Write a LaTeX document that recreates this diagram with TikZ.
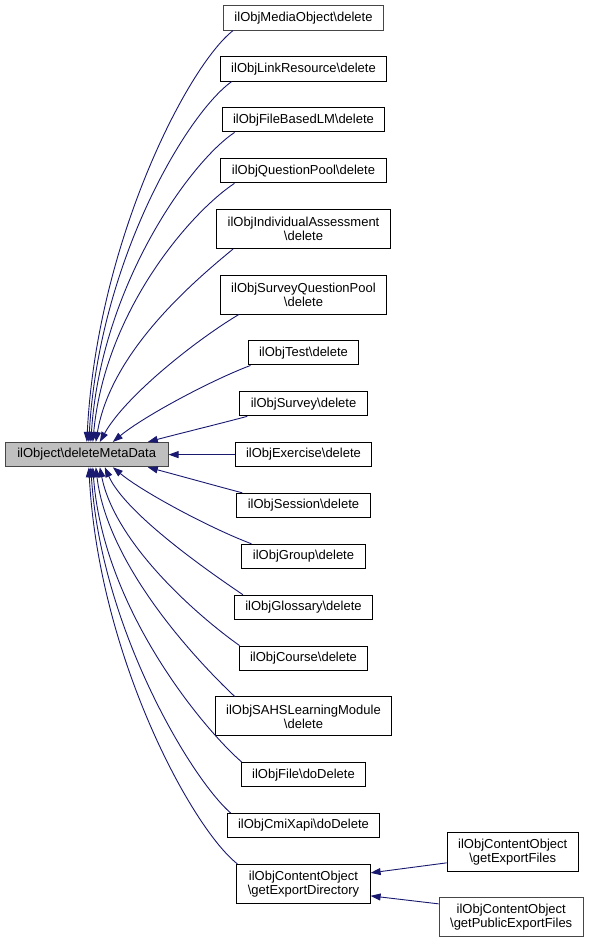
\documentclass[tikz,border=0pt]{standalone}
\usepackage{fontspec}
\setmainfont{Liberation Sans}
\usepackage{xcolor}
\usepackage{tikz}
\usetikzlibrary{arrows.meta, positioning}

\definecolor{edgeblue}{RGB}{25,25,112}
\definecolor{rootfill}{RGB}{191,191,191}
\definecolor{greyline}{RGB}{70,70,70}
\newcommand{\fnfont}{\fontsize{13}{14}\selectfont}

\begin{document}
\begin{tikzpicture}[
    x=1pt, y=1pt,
    node distance=25.6pt,
    fnbox/.style={rectangle, draw=black, line width=1pt, minimum height=24.3pt, inner xsep=11pt, inner ysep=2pt, align=center, font=\fnfont},
    fnbox2/.style={fnbox, minimum height=39pt},
    rootbox/.style={fnbox, draw=greyline, fill=rootfill, inner xsep=12pt},
    greybox/.style={draw=greyline},
    edge/.style={-{Triangle[length=10pt, width=7pt]}, draw=edgeblue, line width=0.9pt}
]
\useasboundingbox (0,0) rectangle (592,-942);

% callers, one column
\node[fnbox, greybox] (media) at (303.5,-18) {ilObjMediaObject\textbackslash delete};
\node[fnbox, below=of media] (link) {ilObjLinkResource\textbackslash delete};
\node[fnbox, below=of link] (fblm) {ilObjFileBasedLM\textbackslash delete};
\node[fnbox, below=of fblm] (qpl) {ilObjQuestionPool\textbackslash delete};
\node[fnbox2, below=of qpl] (iass) {ilObjIndividualAssessment\\\textbackslash delete};
\node[fnbox2, below=of iass] (spl) {ilObjSurveyQuestionPool\\\textbackslash delete};
\node[fnbox, below=of spl] (tst) {ilObjTest\textbackslash delete};
\node[fnbox, below=of tst] (svy) {ilObjSurvey\textbackslash delete};
\node[fnbox, below=of svy] (exc) {ilObjExercise\textbackslash delete};
\node[fnbox, below=of exc] (sess) {ilObjSession\textbackslash delete};
\node[fnbox, below=of sess] (grp) {ilObjGroup\textbackslash delete};
\node[fnbox, below=of grp] (glo) {ilObjGlossary\textbackslash delete};
\node[fnbox, below=of glo] (crs) {ilObjCourse\textbackslash delete};
\node[fnbox2, below=of crs] (sahs) {ilObjSAHSLearningModule\\\textbackslash delete};
\node[fnbox, below=of sahs] (file) {ilObjFile\textbackslash doDelete};
\node[fnbox, below=of file] (cmix) {ilObjCmiXapi\textbackslash doDelete};
\node[fnbox2, below=of cmix] (codir) {ilObjContentObject\\\textbackslash getExportDirectory};

% the function itself
\node[rootbox, left=66pt of exc] (main) {ilObject\textbackslash deleteMetaData};

% callers of getExportDirectory
\node[fnbox2, right=76pt of codir, yshift=32pt] (coexp) {ilObjContentObject\\\textbackslash getExportFiles};
\node[fnbox2, greybox, right=68pt of codir, yshift=-33.5pt] (copub) {ilObjContentObject\\\textbackslash getPublicExportFiles};

% edges above
\draw[edge] ([xshift=10pt]media.south west) .. controls +(-45,-35) and +(10,200) .. ([xshift=82pt]main.north west);
\draw[edge] ([xshift=12pt]link.south west) .. controls +(-45,-32) and +(10,180) .. ([xshift=84pt]main.north west);
\draw[edge] ([xshift=13pt]fblm.south west) .. controls +(-45,-30) and +(10,155) .. ([xshift=86pt]main.north west);
\draw[edge] ([xshift=14pt]qpl.south west) .. controls +(-45,-30) and +(12,130) .. ([xshift=88pt]main.north west);
\draw[edge] ([xshift=17pt]iass.south west) .. controls +(-40,-33) and +(15,90) .. ([xshift=91pt]main.north west);
\draw[edge] ([xshift=19pt]spl.south west) .. controls +(-45,-27) and +(25,45) .. ([xshift=95pt]main.north west);
\draw[edge] ([xshift=3pt]tst.south west) .. controls +(-40,-15) and +(30,25) .. ([xshift=108pt]main.north west);
\draw[edge] ([xshift=8pt]svy.south west) .. controls +(-30,-8) and +(30,8) .. ([xshift=143pt]main.north west);
\draw[edge] (exc) -- (main);

% edges below
\draw[edge] ([xshift=6pt]sess.north west) .. controls +(-30,8) and +(30,-8) .. ([xshift=143pt]main.south west);
\draw[edge] ([xshift=10pt]grp.north west) .. controls +(-40,15) and +(30,-25) .. ([xshift=108pt]main.south west);
\draw[edge] ([xshift=9pt]glo.north west) .. controls +(-40,27) and +(20,-45) .. ([xshift=100pt]main.south west);
\draw[edge] ([xshift=1pt]crs.north west) .. controls +(-45,32) and +(15,-75) .. ([xshift=95pt]main.south west);
\draw[edge] ([xshift=20pt]sahs.north west) .. controls +(-35,33) and +(12,-100) .. ([xshift=91pt]main.south west);
\draw[edge] ([xshift=1pt]file.north west) .. controls +(-40,35) and +(10,-140) .. ([xshift=88pt]main.south west);
\draw[edge] ([xshift=4pt]cmix.north west) .. controls +(-40,35) and +(10,-160) .. ([xshift=86pt]main.south west);
\draw[edge] ([xshift=1pt]codir.north west) .. controls +(-45,35) and +(10,-190) .. ([xshift=84pt]main.south west);

\draw[edge] ([yshift=-11pt]coexp.west) -- ([yshift=11pt]codir.east);
\draw[edge] ([yshift=13.5pt]copub.west) -- ([yshift=-12pt]codir.east);

\end{tikzpicture}
\end{document}
